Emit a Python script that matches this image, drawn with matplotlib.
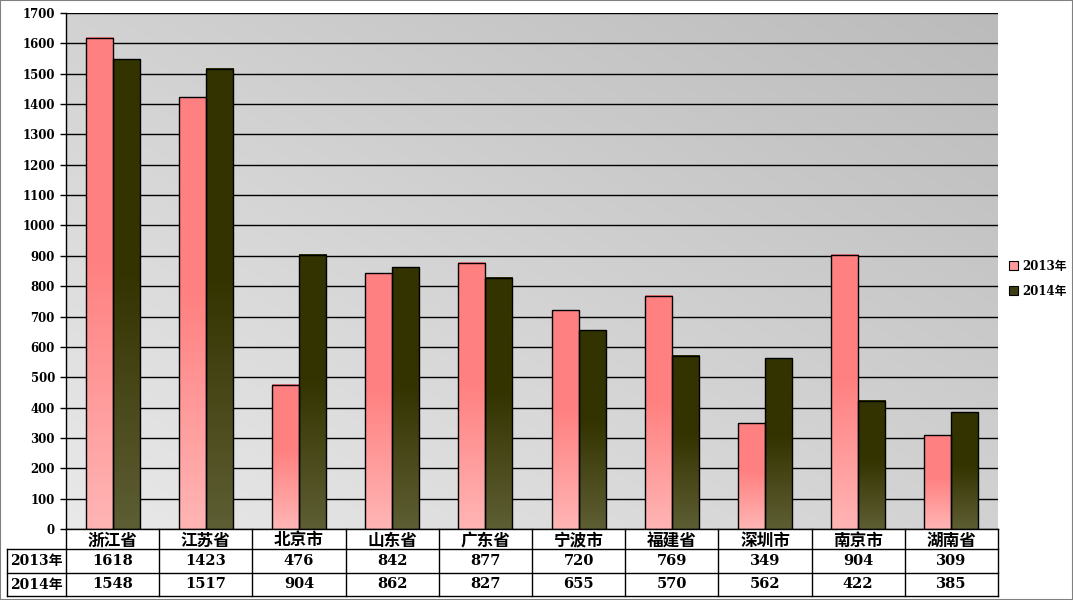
import numpy as np
import matplotlib.pyplot as plt
from matplotlib.patches import Patch, Rectangle
from matplotlib.colors import to_rgb

# 数据
cities = ["浙江省", "江苏省", "北京市", "山东省", "广东省", "宁波市", "福建省", "深圳市", "南京市", "湖南省"]
v2013 = [1618, 1423, 476, 842, 877, 720, 769, 349, 904, 309]
v2014 = [1548, 1517, 904, 862, 827, 655, 570, 562, 422, 385]
series_names = ["2013年", "2014年"]
yticks = list(range(0, 1800, 100))

FONT = ["DejaVu Serif", "Noto Sans CJK SC", "DejaVu Sans"]
plt.rcParams["font.family"] = FONT
plt.rcParams["font.weight"] = "bold"


def bar_gradient(top, bottom, n=200, solid=0.45):
    # 顶部一段纯色，向下渐变到浅色
    t = np.linspace(0, 1, n)  # 0 = bottom, 1 = top
    k = np.clip(t / (1 - solid), 0, 1)[:, None]
    top, bottom = np.array(to_rgb(top)), np.array(to_rgb(bottom))
    return bottom + (top - bottom) * k


W, H = 1073, 600
AX_W, AX_H = 932, 516
fig = plt.figure(figsize=(W / 100, H / 100), dpi=100)
ax = fig.add_axes([66 / W, 1 - 529 / H, AX_W / W, AX_H / H])

# 背景渐变（左下浅、右上深）
gx, gy = np.meshgrid(np.linspace(0, 1, 200), np.linspace(0, 1, 200))
g = (233 - (gx + gy) / 2 * 46) / 255
bg = np.dstack([g, g, g])
ax.imshow(bg, extent=(0, 1, 0, 1), transform=ax.transAxes, origin="lower",
          aspect="auto", zorder=0)

x = np.arange(len(cities))
w = 0.29
grads = [bar_gradient("#FF8080", "#FFB5B5"), bar_gradient("#333300", "#5E5E34")]
for i, (vals, grad) in enumerate(zip([v2013, v2014], grads)):
    bars = ax.bar(x + (i - 0.5) * w, vals, w, facecolor="none", edgecolor="black",
                  linewidth=1, zorder=3)
    for b in bars:
        x0, h = b.get_x(), b.get_height()
        ax.imshow(grad[:, None, :], extent=(x0, x0 + w, 0, h), origin="lower",
                  aspect="auto", zorder=2)

ax.set_xlim(-0.5, len(cities) - 0.5)
ax.set_ylim(0, 1700)
ax.set_yticks(yticks)
ax.set_yticklabels([str(v) for v in yticks], fontsize=8.5, fontweight="bold")
ax.tick_params(axis="y", length=4, width=1, direction="out", pad=4)
ax.set_xticks([])
ax.yaxis.grid(True, color="black", linewidth=1)
for gl in ax.get_ygridlines():
    gl.set_zorder(1)
for s in ["top", "right", "bottom"]:
    ax.spines[s].set_visible(False)
ax.spines["left"].set_linewidth(1)

# 数据表（轴坐标，手工绘制）
tr = ax.transAxes
left = -59 / AX_W
rows_y = [0, -20 / AX_H, -44 / AX_H, -67 / AX_H]
col_w = 1 / len(cities)
line_kw = dict(color="black", linewidth=1, transform=tr, clip_on=False, zorder=5)
ax.add_patch(Rectangle((left, rows_y[3]), -left, rows_y[1] - rows_y[3], transform=tr,
                       facecolor="white", edgecolor="none", clip_on=False, zorder=4))
ax.add_patch(Rectangle((0, rows_y[3]), 1, -rows_y[3], transform=tr,
                       facecolor="white", edgecolor="none", clip_on=False, zorder=4))
ax.plot([0, 1], [rows_y[0]] * 2, **line_kw)
for yy in rows_y[1:]:
    ax.plot([left, 1], [yy] * 2, **line_kw)
ax.plot([left, left], [rows_y[1], rows_y[3]], **line_kw)
for j in range(len(cities) + 1):
    ax.plot([j * col_w] * 2, [rows_y[0], rows_y[3]], **line_kw)

for j, name in enumerate(cities):
    cx = (j + 0.5) * col_w
    ax.text(cx, (rows_y[0] + rows_y[1]) / 2 - 2 / AX_H, name, transform=tr,
            ha="center", va="center", fontsize=12, fontweight="bold", zorder=6)
    for r, vals in enumerate([v2013, v2014]):
        ax.text(cx, (rows_y[r + 1] + rows_y[r + 2]) / 2, str(vals[j]), transform=tr,
                ha="center", va="center", fontsize=10.5, fontweight="bold", zorder=6)
for r, name in enumerate(series_names):
    ax.text(left / 2, (rows_y[r + 1] + rows_y[r + 2]) / 2, name, transform=tr,
            ha="center", va="center", fontsize=10, fontweight="bold", zorder=6)

# 图例
handles = [Patch(facecolor="#FF9A9A", edgecolor="black", linewidth=0.8),
           Patch(facecolor="#3E3E15", edgecolor="black", linewidth=0.8)]
fig.legend(handles, series_names, loc="upper left", bbox_to_anchor=(1003 / W, 1 - 254 / H),
           frameon=False, fontsize=8.5, handlelength=0.8, handleheight=0.8,
           handletextpad=0.3, labelspacing=1.0, borderpad=0)

fig.patches.append(Rectangle((0, 0), 1, 1, transform=fig.transFigure, fill=False,
                             edgecolor="#808080", linewidth=1.5))

fig.savefig("out.png", dpi=100)
